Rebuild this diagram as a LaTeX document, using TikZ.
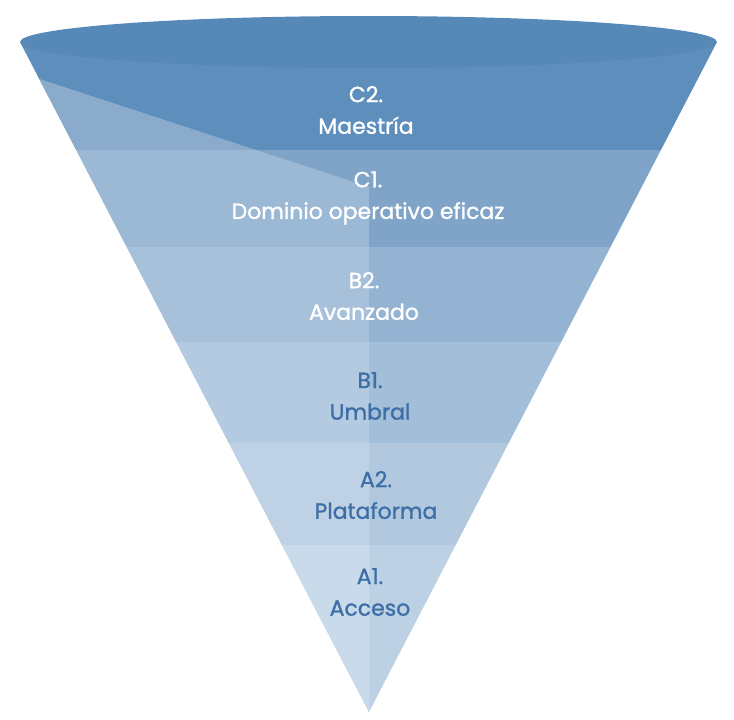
\documentclass[tikz,border=0pt]{standalone}
\usepackage{fontspec}
\setmainfont{Poppins}[FakeBold=1.2]
\usetikzlibrary{calc}
\definecolor{rimblue}{HTML}{5688B8}
\definecolor{inkblue}{HTML}{3D6FA6}
\definecolor{darkCtwo}{HTML}{5E8EBB}\definecolor{liteCtwo}{HTML}{8BABCD}
\definecolor{darkCone}{HTML}{7FA4C8}\definecolor{liteCone}{HTML}{9BB8D5}
\definecolor{darkBtwo}{HTML}{94B3D2}\definecolor{liteBtwo}{HTML}{A7C1DB}
\definecolor{darkBone}{HTML}{A3BED9}\definecolor{liteBone}{HTML}{B4CAE0}
\definecolor{darkAtwo}{HTML}{B2C8DF}\definecolor{liteAtwo}{HTML}{BFD2E5}
\definecolor{darkAone}{HTML}{BDD1E4}\definecolor{liteAone}{HTML}{C9DAEA}
\tikzset{
	levellabel/.style={align=center, font=\fontsize{12.5}{18}\selectfont},
	whitelabel/.style={levellabel, text=white},
	bluelabel/.style={levellabel, text=inkblue}
}

\begin{document}
\begin{tikzpicture}[x=0.02cm, y=-0.02cm]
		%%%%% START %%%%%
		
		\useasboundingbox (0, 0) rectangle (734, 720);
		
		\begin{scope}
			\clip (20, 42) -- (717, 42) -- (369, 712) -- cycle;
			% dark side of the bands
			\foreach \top/\bot/\shade in {42/150/darkCtwo, 150/247/darkCone, 247/342/darkBtwo, 342/443/darkBone, 443/545/darkAtwo, 545/720/darkAone}
				\fill[\shade] (0, \top) rectangle (734, \bot);
			% lit side of the bands
			\clip (0, 66) -- (369, 187) -- (369, 720) -- (0, 720) -- cycle;
			\foreach \top/\bot/\shade in {42/150/liteCtwo, 150/247/liteCone, 247/342/liteBtwo, 342/443/liteBone, 443/545/liteAtwo, 545/720/liteAone}
				\fill[\shade] (0, \top) rectangle (734, \bot);
		\end{scope}
		
		\fill[rimblue] (368.5, 42) ellipse (348.5 and 26);
		
		\node[whitelabel] (ctwo) at (366, 110) {C2.\\Maestría};
		\node[whitelabel] (cone) at (368, 198) {C1.\\Dominio operativo eficaz};
		\node[whitelabel] (btwo) at (364, 296) {B2.\\Avanzado};
		\node[bluelabel] (bone) at (370, 396) {B1.\\Umbral};
		\node[bluelabel] (atwo) at (376, 495) {A2.\\Plataforma};
		\node[bluelabel] (aone) at (370, 592) {A1.\\Acceso};
		
		%%%%% END %%%%%
	\end{tikzpicture}
\end{document}
